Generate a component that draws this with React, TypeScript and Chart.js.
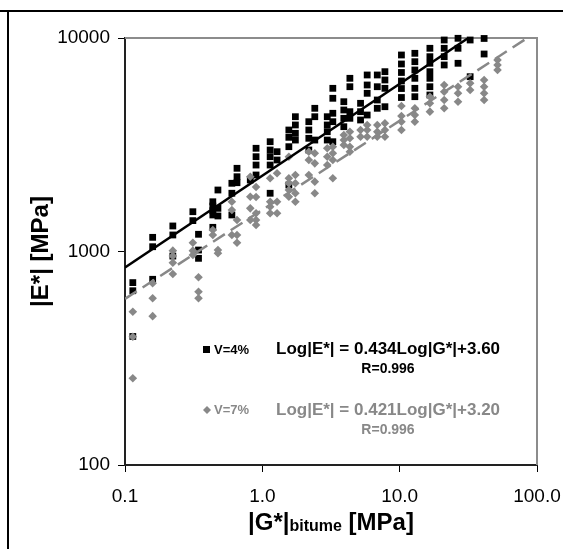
import React, { useEffect, useRef } from "react";
import { Chart, registerables } from "chart.js";

Chart.register(...registerables);

const FONT = '"Liberation Sans", Arial, Helvetica, sans-serif';

const xTickValues = [0.1, 1, 10, 100];
const xTickLabels = ["0.1", "1.0", "10.0", "100.0"];
const yTickValues = [100, 1000, 10000];
const yTickLabels = ["100", "1000", "10000"];

const seriesNames = ["V=4%", "V=7%"];
const equationTexts = ["Log|E*| = 0.434Log|G*|+3.60", "Log|E*| = 0.421Log|G*|+3.20"];
const rTexts = ["R=0.996", "R=0.996"];

// [|G*| bitume (MPa), |E*| (MPa)]
const pointsV4: [number, number][] = [
  [0.114, 715], [0.114, 655], [0.114, 400],
  [0.159, 1165], [0.159, 1053], [0.159, 741],
  [0.223, 1317], [0.223, 1195], [0.223, 952],
  [0.312, 1536], [0.312, 1395],
  [0.343, 1204], [0.343, 1016], [0.343, 929],
  [0.436, 1710], [0.436, 1633], [0.436, 1553], [0.436, 1483], [0.436, 1298],
  [0.475, 1941], [0.475, 1593], [0.475, 1467],
  [0.6, 2087], [0.6, 1874], [0.6, 1483],
  [0.654, 2453], [0.654, 2240], [0.654, 2100],
  [0.817, 2162],
  [0.9, 3044], [0.9, 2780], [0.9, 2541], [0.9, 2282],
  [1.14, 3268], [1.14, 2988], [1.14, 2780], [1.14, 2541], [1.14, 1874],
  [1.28, 2934], [1.28, 2683],
  [1.56, 3707], [1.56, 3426], [1.56, 3097], [1.56, 2049],
  [1.74, 4279], [1.74, 3914], [1.74, 3578], [1.74, 3327],
  [2.18, 4055], [2.18, 3707], [2.18, 3390], [2.18, 2988],
  [2.41, 4685], [2.41, 4279], [2.41, 3327],
  [2.97, 4279], [2.97, 3914], [2.97, 3640], [2.97, 3327],
  [3.26, 5812], [3.26, 5219], [3.26, 4440], [3.26, 4055], [3.26, 3268],
  [3.92, 5030], [3.92, 4601], [3.92, 4206], [3.92, 3842],
  [4.34, 6475], [4.34, 5913], [4.34, 4518], [4.34, 4206],
  [5.19, 4944], [5.19, 4518], [5.19, 4130],
  [5.8, 6711], [5.8, 6024], [5.8, 5508], [5.8, 4358],
  [6.87, 6711], [6.87, 5913], [6.87, 5124], [6.87, 4685],
  [7.81, 6955], [7.81, 6359], [7.81, 5812], [7.81, 4766],
  [10.3, 8325], [10.3, 7556], [10.3, 6894], [10.3, 6290], [10.3, 5799], [10.3, 5264],
  [12.9, 8478], [12.9, 7745], [12.9, 7082], [12.9, 6475], [12.9, 5812], [12.9, 5310],
  [16.6, 8950], [16.6, 8175], [16.6, 7613], [16.6, 6955], [16.6, 6475], [16.6, 5913], [16.6, 5408],
  [21.1, 9787], [21.1, 8950], [21.1, 8175], [21.1, 7475],
  [26.6, 9968], [26.6, 8950], [26.6, 7613],
  [32.6, 9787], [32.6, 6588],
  [41.2, 9950], [41.2, 8415],
];

const pointsV7: [number, number][] = [
  [0.114, 522], [0.114, 399], [0.114, 255],
  [0.159, 710], [0.159, 604], [0.159, 498],
  [0.223, 1009], [0.223, 952], [0.223, 886], [0.223, 784],
  [0.312, 1099], [0.312, 1009], [0.312, 963],
  [0.343, 757], [0.343, 648], [0.343, 604],
  [0.436, 1261], [0.436, 1195],
  [0.475, 1016], [0.475, 981],
  [0.6, 1710], [0.6, 1565], [0.6, 1195],
  [0.654, 1405], [0.654, 1195], [0.654, 1099],
  [0.817, 2240], [0.817, 1805], [0.817, 1593], [0.817, 1405],
  [0.9, 2005], [0.9, 1800], [0.9, 1510], [0.9, 1405], [0.9, 1331],
  [1.14, 2202], [1.14, 1710], [1.14, 1621], [1.14, 1510],
  [1.28, 2324], [1.28, 1710], [1.28, 1510],
  [1.56, 2780], [1.56, 2202], [1.56, 2087], [1.56, 1941], [1.56, 1805],
  [1.74, 2282], [1.74, 2087], [1.74, 1874], [1.74, 1710],
  [2.18, 2934], [2.18, 2683], [2.18, 2282],
  [2.41, 2884], [2.41, 2588], [2.41, 2124], [2.41, 1874],
  [2.97, 3044], [2.97, 2780], [2.97, 2541],
  [3.26, 3097], [3.26, 2884], [3.26, 2683], [3.26, 2202],
  [3.92, 3513], [3.92, 3327], [3.92, 3152],
  [4.34, 3640], [4.34, 3390], [4.34, 3097], [4.34, 2934],
  [5.19, 3707], [5.19, 3448],
  [5.8, 3914], [5.8, 3707], [5.8, 3448],
  [6.87, 3914], [6.87, 3640], [6.87, 3448],
  [7.81, 3985], [7.81, 3707], [7.81, 3448],
  [10.3, 4802], [10.3, 4311], [10.3, 4055], [10.3, 3707],
  [12.9, 4685], [12.9, 4358], [12.9, 4055],
  [16.6, 5310], [16.6, 4944], [16.6, 4518],
  [21.1, 6024], [21.1, 5604], [21.1, 5124], [21.1, 4685],
  [26.6, 5913], [26.6, 5508], [26.6, 5030],
  [32.6, 6135], [32.6, 5707],
  [41.2, 6359], [41.2, 5913], [41.2, 5508], [41.2, 5124],
  [51.6, 7889], [51.6, 7475], [51.6, 7082],
];

// Regression lines (end points)
const fitV4: [number, number][] = [[0.1, 841], [31.6, 10000]];
const fitV7: [number, number][] = [[0.1, 600], [85, 10000]];

const BLACK = "#000000";
const GREY = "#888888";

const toXY = (arr: [number, number][]) => arr.map(([x, y]) => ({ x, y }));

const overlayPlugin = {
  id: "overlay",
  beforeDatasetsDraw(chart: any) {
    const { ctx, chartArea: a } = chart;
    ctx.save();
    ctx.strokeStyle = "#8c8c8c";
    ctx.lineWidth = 2;
    ctx.beginPath();
    ctx.moveTo(a.left, a.top);
    ctx.lineTo(a.right, a.top);
    ctx.lineTo(a.right, a.bottom);
    ctx.stroke();
    ctx.restore();
  },
  afterDraw(chart: any) {
    const { ctx, chartArea: a } = chart;
    ctx.save();
    // Y axis title
    ctx.fillStyle = BLACK;
    ctx.font = `bold 24px ${FONT}`;
    ctx.textAlign = "center";
    ctx.textBaseline = "middle";
    ctx.translate(41, (a.top + a.bottom) / 2);
    ctx.rotate(-Math.PI / 2);
    ctx.fillText("|E*| [MPa]", 0, 0);
    ctx.restore();

    // X axis title with smaller "bitume"
    ctx.save();
    ctx.fillStyle = BLACK;
    ctx.textBaseline = "alphabetic";
    ctx.textAlign = "left";
    const big = `bold 24px ${FONT}`;
    const small = `bold 16px ${FONT}`;
    const parts: [string, string][] = [["|G*|", big], ["bitume", small], [" [MPa]", big]];
    let total = 0;
    for (const [t, f] of parts) { ctx.font = f; total += ctx.measureText(t).width; }
    let x = (a.left + a.right) / 2 - total / 2;
    const base = 530;
    for (const [t, f] of parts) {
      ctx.font = f;
      ctx.fillText(t, x, base + (f === small ? 1 : 0));
      x += ctx.measureText(t).width;
    }
    ctx.restore();

    // Annotations
    ctx.save();
    ctx.textBaseline = "middle";
    // V=4%
    ctx.fillStyle = BLACK;
    ctx.fillRect(203, 346, 7, 7);
    ctx.font = `bold 13px ${FONT}`;
    ctx.textAlign = "left";
    ctx.fillText(seriesNames[0], 214, 350);
    ctx.font = `bold 17px ${FONT}`;
    ctx.fillText(equationTexts[0], 276, 349);
    ctx.font = `bold 14px ${FONT}`;
    ctx.textAlign = "center";
    ctx.fillText(rTexts[0], 388, 369);
    // V=7%
    ctx.fillStyle = GREY;
    ctx.beginPath();
    ctx.moveTo(207, 406);
    ctx.lineTo(211, 410);
    ctx.lineTo(207, 414);
    ctx.lineTo(203, 410);
    ctx.closePath();
    ctx.fill();
    ctx.font = `bold 13px ${FONT}`;
    ctx.textAlign = "left";
    ctx.fillText(seriesNames[1], 214, 410);
    ctx.font = `bold 17px ${FONT}`;
    ctx.fillText(equationTexts[1], 276, 410);
    ctx.font = `bold 14px ${FONT}`;
    ctx.textAlign = "center";
    ctx.fillText(rTexts[1], 388, 430);
    ctx.restore();
  },
};

export default function App() {
  const canvasRef = useRef<HTMLCanvasElement | null>(null);

  useEffect(() => {
    if (!canvasRef.current) return;
    const chart = new Chart(canvasRef.current, {
      type: "scatter",
      data: {
        datasets: [
          {
            label: "fit V=4%",
            data: toXY(fitV4),
            showLine: true,
            borderColor: BLACK,
            borderWidth: 2.5,
            pointRadius: 0,
            order: 0,
          } as any,
          {
            label: "fit V=7%",
            data: toXY(fitV7),
            showLine: true,
            borderColor: GREY,
            borderWidth: 2.5,
            borderDash: [14, 7],
            pointRadius: 0,
            order: 1,
          } as any,
          {
            label: seriesNames[1],
            data: toXY(pointsV7),
            pointStyle: "rectRot",
            pointRadius: 4.3,
            backgroundColor: GREY,
            borderColor: GREY,
            borderWidth: 0,
            clip: 10,
            order: 2,
          } as any,
          {
            label: seriesNames[0],
            data: toXY(pointsV4),
            pointStyle: "rect",
            pointRadius: 4.8,
            backgroundColor: BLACK,
            borderColor: BLACK,
            borderWidth: 0,
            clip: 10,
            order: 3,
          } as any,
        ],
      },
      options: {
        responsive: false,
        animation: false,
        devicePixelRatio: 1,
        layout: { padding: { left: 0, top: 38, right: 26, bottom: 0 } },
        plugins: {
          legend: { display: false },
          tooltip: { enabled: false },
          title: { display: false },
        },
        scales: {
          x: {
            type: "logarithmic",
            min: 0.1,
            max: 100,
            afterBuildTicks: (s: any) => {
              s.ticks = xTickValues.map((v) => ({ value: v }));
            },
            afterFit: (s: any) => {
              s.height = 84;
              s.paddingLeft = 0;
              s.paddingRight = 0;
            },
            ticks: {
              autoSkip: false,
              maxRotation: 0,
              minRotation: 0,
              padding: 13,
              color: BLACK,
              font: { family: FONT, size: 19 },
              callback: (_v: any, i: number) => xTickLabels[i],
            },
            grid: {
              drawOnChartArea: false,
              drawTicks: true,
              tickLength: 7,
              color: BLACK,
              lineWidth: 1,
            },
            border: { display: true, color: "#222", width: 2 },
          } as any,
          y: {
            type: "logarithmic",
            min: 100,
            max: 10000,
            afterBuildTicks: (s: any) => {
              s.ticks = yTickValues.map((v) => ({ value: v }));
            },
            afterFit: (s: any) => {
              s.width = 125;
              s.paddingTop = 0;
              s.paddingBottom = 0;
            },
            ticks: {
              autoSkip: false,
              padding: 8,
              color: BLACK,
              font: { family: FONT, size: 19 },
              callback: (_v: any, i: number) => yTickLabels[i],
            },
            grid: {
              drawOnChartArea: false,
              drawTicks: true,
              tickLength: 7,
              color: BLACK,
              lineWidth: 1,
            },
            border: { display: true, color: "#222", width: 2 },
          } as any,
        },
      },
      plugins: [overlayPlugin],
    });
    return () => chart.destroy();
  }, []);

  return (
    <div>
      <div
        style={{ position: "absolute", left: 0, top: 10, width: 563, height: 2, background: "#000" }}
      />
      <div
        style={{ position: "absolute", left: 7, top: 10, width: 2, height: 539, background: "#000" }}
      />
      <canvas
        ref={canvasRef}
        width={563}
        height={549}
        style={{ position: "absolute", left: 0, top: 0, width: 563, height: 549 }}
      />
    </div>
  );
}
